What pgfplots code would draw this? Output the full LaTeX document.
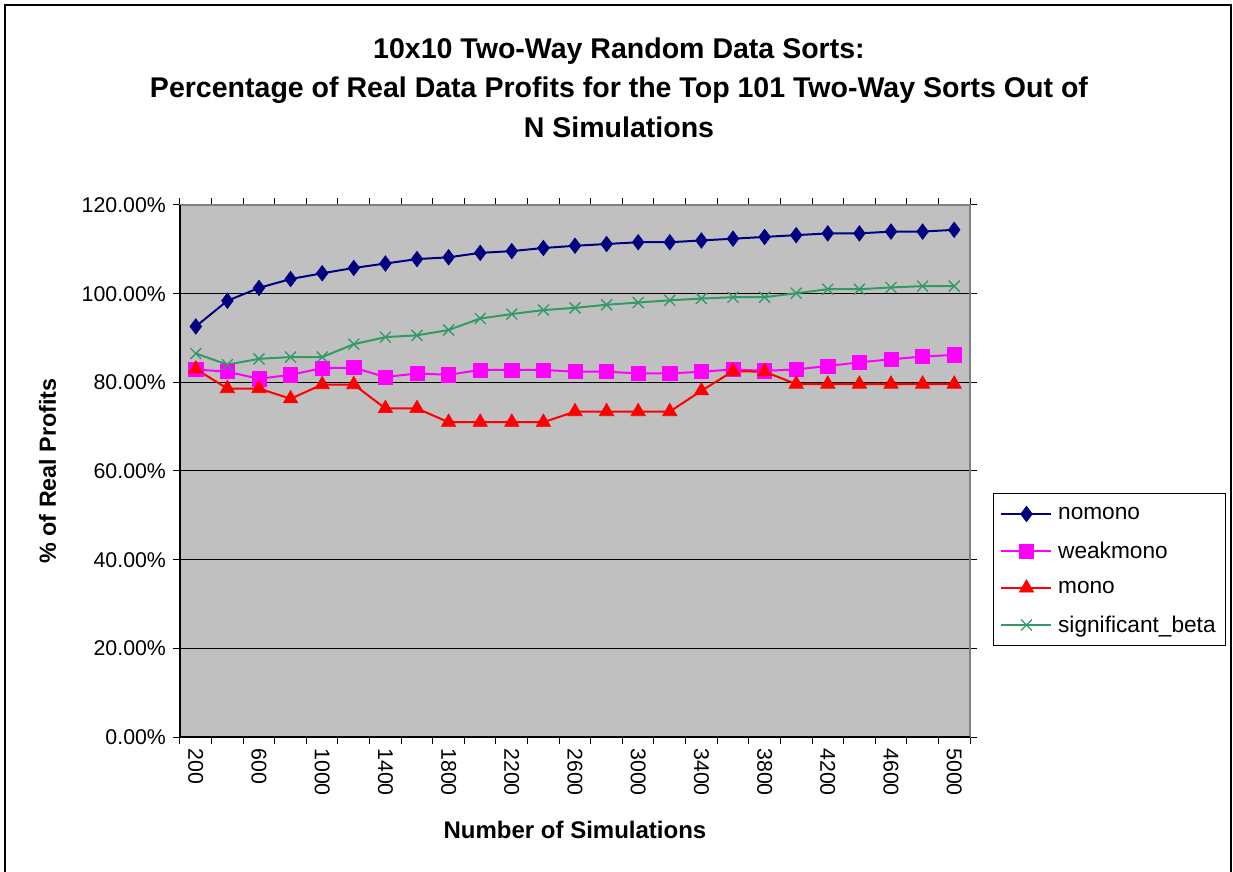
\documentclass[border=0pt]{standalone}
\usepackage{fontspec}
\setmainfont{Liberation Sans}
\usepackage{pgfplots}
\usepackage{pgfplotstable}
\pgfplotsset{compat=1.18}
\definecolor{plotbg}{RGB}{192,192,192}
\definecolor{nomonoc}{RGB}{0,0,128}
\definecolor{weakc}{RGB}{255,0,255}
\definecolor{monoc}{RGB}{255,0,0}
\definecolor{sigc}{RGB}{51,153,102}

% values, in percent; x = 0..24 for N = 200..5000
\pgfplotstableread{
i  nomono weakmono mono sig
0  92.6  82.9  83.0  86.5
1  98.4  82.4  78.6  84.0
2  101.3 80.8  78.6  85.3
3  103.3 81.7  76.3  85.7
4  104.6 83.2  79.5  85.7
5  105.8 83.3  79.5  88.6
6  106.8 81.2  74.1  90.2
7  107.8 82.0  74.1  90.6
8  108.2 81.7  71.0  91.8
9  109.2 82.8  71.0  94.4
10 109.6 82.8  71.0  95.4
11 110.3 82.8  71.0  96.3
12 110.8 82.4  73.4  96.8
13 111.2 82.4  73.4  97.5
14 111.6 82.0  73.4  98.0
15 111.6 82.0  73.4  98.5
16 112.0 82.4  78.1  98.9
17 112.4 82.9  82.5  99.2
18 112.8 82.6  82.4  99.2
19 113.2 82.9  79.6  100.1
20 113.6 83.7  79.6  101.0
21 113.6 84.5  79.6  101.0
22 114.0 85.2  79.6  101.4
23 114.0 85.8  79.6  101.7
24 114.4 86.2  79.6  101.7
}\sims

\begin{document}
\begin{tikzpicture}
\useasboundingbox (-135pt,-101.25pt) rectangle (789.75pt,552.75pt);
\draw[line width=1.5pt] (-131.6pt,-110pt) -- (-131.6pt,549pt) -- (788.6pt,549pt) -- (788.6pt,-110pt);
\begin{axis}[
  at={(0,0)}, anchor=south west,
  scale only axis, width=592.5pt, height=399pt,
  xmin=-0.5, xmax=24.5, ymin=0, ymax=120,
  axis background/.style={fill=plotbg},
  axis line style={draw=gray, line width=1pt},
  xtick={0,2,...,24},
  xticklabels={200,600,1000,1400,1800,2200,2600,3000,3400,3800,4200,4600,5000},
  minor xtick={-0.5,0.5,...,24.5},
  major x tick style={draw=none},
  ytick={0,20,...,120},
  tick align=outside,
  major tick length=5pt, minor tick length=5pt,
  tick style={black, line width=0.75pt},
  ymajorgrids, grid style={black, line width=0.75pt},
  yticklabel={\pgfmathprintnumber[fixed,fixed zerofill,precision=2,assume math mode=true]{\tick}\%},
  tick label style={font=\fontsize{16}{19}\selectfont},
  yticklabel style={xshift=-2pt},
  xticklabel style={rotate=-90, anchor=west},
  xlabel={Number of Simulations},
  xlabel style={at={(axis description cs:0.5,-0.1748)}, anchor=center, font=\fontsize{18}{21}\selectfont\bfseries},
  ylabel={\% of Real Profits},
  ylabel style={at={(axis description cs:-0.1678,0.5)}, anchor=center, font=\fontsize{17.5}{21}\selectfont\bfseries},
  every axis plot/.append style={line width=1.5pt},
  legend image code/.code={\draw[mark repeat=2,mark phase=2,#1] plot coordinates {(0pt,0pt) (18.75pt,0pt) (37.5pt,0pt)};},
  legend cell align=left,
  legend style={at={(1.0291,0.4586)}, anchor=north west, draw=black, line width=0.75pt, fill=white,
    inner xsep=5.25pt, inner ysep=1.5pt, row sep=0pt,
    nodes={inner xsep=2.25pt, inner ysep=0pt, minimum height=27.75pt},
    /tikz/every odd column/.append style={column sep=2pt},
    font=\fontsize{17}{20}\selectfont},
  clip=false,
]
\addplot[nomonoc, mark=diamond*, mark size=5.8pt, mark options={solid,line width=0.5pt}] table[x=i,y=nomono] {\sims};
\addlegendentry{nomono}
\addplot[weakc, mark=square*, mark size=5.3pt, mark options={solid,line width=0.5pt}] table[x=i,y=weakmono] {\sims};
\addlegendentry{weakmono}
\addplot[monoc, mark=triangle*, mark size=6.2pt, mark options={solid,line width=0.5pt}] table[x=i,y=mono] {\sims};
\addlegendentry{mono}
\addplot[sigc, mark=x, mark size=5.8pt, mark options={solid,line width=1pt}] table[x=i,y=sig] {\sims};
\addlegendentry{significant\_beta}
\draw[black, line width=1.1pt] (rel axis cs:0,1) -- (rel axis cs:0,0) -- (rel axis cs:1,0);
\end{axis}
\node[align=center, font=\fontsize{21.4}{29.5}\selectfont\bfseries] at (329.25pt,487pt)
  {10x10 Two-Way Random Data Sorts:\\Percentage of Real Data Profits for the Top 101 Two-Way Sorts Out of\\N Simulations};
\end{tikzpicture}
\end{document}
